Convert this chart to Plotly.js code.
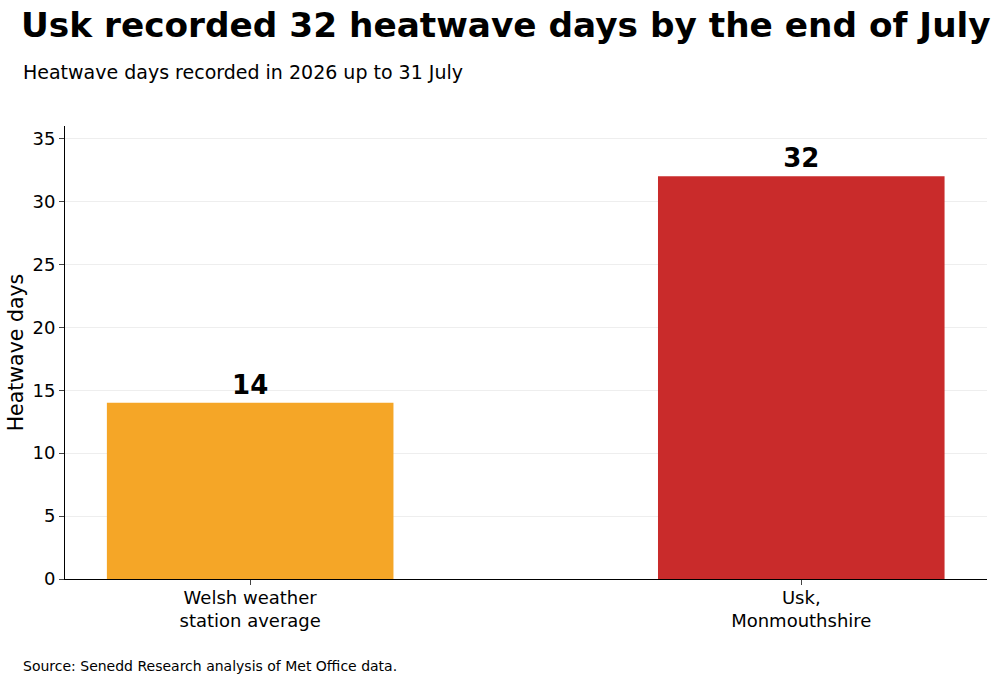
<!DOCTYPE html>
<html><head><meta charset="utf-8">
<script src="https://cdn.plot.ly/plotly-3.0.1.min.js"></script>
<style>body{margin:0}#chart{width:1000px;height:682px}</style>
</head><body><div id="chart"></div>
<script>
const categories = ['Welsh weather<br>station average', 'Usk,<br>Monmouthshire'];
const values = [14, 32];
const colours = ['#F5A627', '#C92B2B'];

const font = 'DejaVu Sans, sans-serif';

Plotly.newPlot('chart', [{
    x: [0, 1], y: values, type: 'bar', width: 0.52,
    marker: { color: colours },
    text: values.map(String), textposition: 'outside', cliponaxis: false,
    textfont: { family: font, size: 26, color: '#000', weight: 'bold' },
    hoverinfo: 'skip'
}], {
    width: 1000, height: 682,
    margin: { l: 65, r: 13, t: 126, b: 103 },
    font: { family: font, color: '#000' },
    plot_bgcolor: '#fff', paper_bgcolor: '#fff',
    showlegend: false,
    title: { text: '<b>Usk recorded 32 heatwave days by the end of July</b>', x: 0.021, xanchor: 'left', y: 0.963, yanchor: 'middle', font: { family: font, size: 34.3 } },
    xaxis: { range: [-0.336, 1.337], tickvals: [0, 1], ticktext: categories, showline: true, linecolor: '#000', ticks: 'outside', ticklen: 5, ticklabelstandoff: -3, tickfont: { size: 18 }, zeroline: false },
    yaxis: { range: [0, 36], dtick: 5, showline: true, linecolor: '#000', ticks: 'outside', ticklen: 5, tickfont: { size: 18 }, gridcolor: '#eeeeee', zeroline: false,
        title: { text: 'Heatwave days', font: { size: 20.5 }, standoff: 3 } },
    annotations: [
        { text: 'Heatwave days recorded in 2026 up to 31 July', xref: 'paper', yref: 'paper', x: -0.048, y: 1.0, yshift: 54, xanchor: 'left', yanchor: 'middle', showarrow: false, font: { size: 19 } },
        { text: 'Source: Senedd Research analysis of Met Office data.', xref: 'paper', yref: 'paper', x: -0.048, y: 0, yshift: -87, xanchor: 'left', yanchor: 'middle', showarrow: false, font: { size: 14 } }
    ]
}, { displayModeBar: false });
</script></body></html>
